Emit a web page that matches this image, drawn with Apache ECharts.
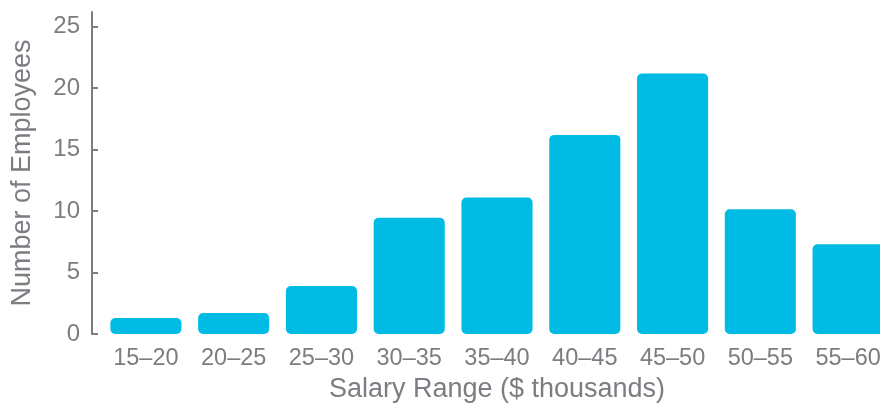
<!DOCTYPE html>
<html>
<head>
<meta charset="utf-8">
<script src="https://cdn.jsdelivr.net/npm/echarts@6/dist/echarts.min.js"></script>
<style>
  html, body { margin: 0; padding: 0; background: #fff; }
  #chart { width: 880px; height: 403px; }
</style>
</head>
<body>
<div id="chart"></div>
<script>
const salaryRanges = ['15–20', '20–25', '25–30', '30–35', '35–40', '40–45', '45–50', '50–55', '55–60']
const employees = [1.3, 1.7, 3.9, 9.45, 11.1, 16.2, 21.2, 10.15, 7.3]
const yTicks = [0, 5, 10, 15, 20, 25]

const gray = '#7c7c82'
const font = 'Liberation Sans, Arial, sans-serif'

const chart = echarts.init(document.getElementById('chart'))
chart.setOption({
  animation: false,
  grid: { left: 102, top: 12, bottom: 69, width: 790, outerBoundsMode: 'none' },
  xAxis: {
    type: 'category',
    data: salaryRanges,
    name: 'Salary Range ($ thousands)',
    nameLocation: 'middle',
    nameGap: 38,
    nameTextStyle: { color: gray, fontSize: 27, fontFamily: font },
    axisLine: { show: false },
    axisTick: { show: false },
    axisLabel: { color: gray, fontSize: 23.5, fontFamily: font, margin: 13 }
  },
  yAxis: {
    type: 'value',
    min: 0,
    max: 26.2,
    offset: 10,
    name: 'Number of Employees',
    nameLocation: 'middle',
    nameGap: 56,
    nameTextStyle: { color: gray, fontSize: 27, fontFamily: font },
    splitLine: { show: false },
    axisLine: { show: true, lineStyle: { color: gray, width: 2 } },
    axisTick: { show: true, inside: true, length: 6, lineStyle: { color: gray, width: 2 }, customValues: yTicks },
    axisLabel: { color: gray, fontSize: 24, fontFamily: font, margin: 12, customValues: yTicks }
  },
  series: [{
    type: 'bar',
    data: employees,
    barCategoryGap: '19%',
    itemStyle: { color: '#00bce5', borderRadius: 5 }
  }]
})
</script>
</body>
</html>
